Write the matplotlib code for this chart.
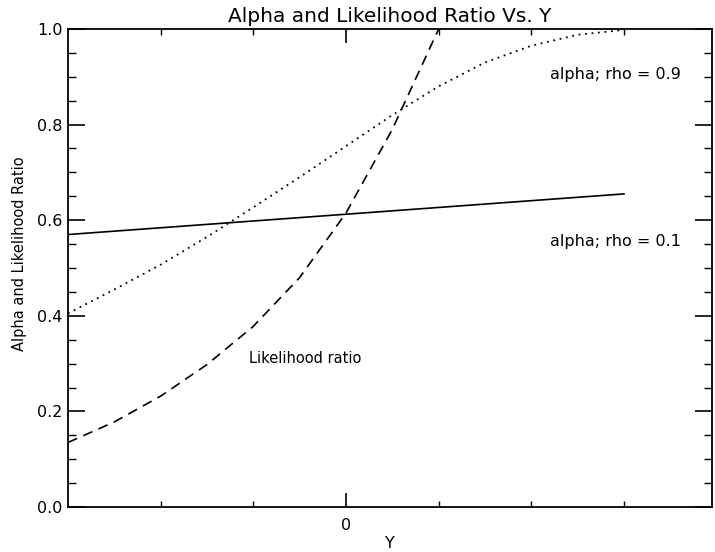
import matplotlib
matplotlib.use("Agg")
import matplotlib.pyplot as plt
import numpy as np

# --- data ---
y_grid = [-3.0, -2.5, -2.0, -1.5, -1.0, -0.5, 0.0, 0.5, 1.0, 1.5, 2.0, 2.5, 3.0]

# alpha, rho = 0.1 (solid)
alpha_01_x = [-3.0, 3.0]
alpha_01 = [0.570, 0.655]

# alpha, rho = 0.9 (dotted)
alpha_09 = [0.405, 0.455, 0.507, 0.565, 0.627, 0.690, 0.755, 0.820, 0.880, 0.930, 0.965, 0.988, 0.998]

# likelihood ratio (dashed)
lr_x = [-3.0, -2.5, -2.0, -1.5, -1.0, -0.5, 0.0, 0.5, 1.0]
lr = [0.135, 0.178, 0.232, 0.298, 0.378, 0.480, 0.615, 0.790, 1.0]

y_ticks = [0.0, 0.2, 0.4, 0.6, 0.8, 1.0]
y_tick_labels = ["0.0", "0.2", "0.4", "0.6", "0.8", "1.0"]

plt.rcParams['font.family'] = ['DejaVu Sans']

fig = plt.figure(figsize=(7.15, 5.52), dpi=100)
ax = fig.add_axes([68 / 715, 45 / 552, 644 / 715, 478 / 552])

ax.plot(alpha_01_x, alpha_01, color='black', lw=1.2, linestyle='-')
ax.plot(y_grid, alpha_09, color='black', lw=1.3, linestyle=(0, (1, 2.6)))
ax.plot(lr_x, lr, color='black', lw=1.2, linestyle=(0, (6, 4)))

ax.set_xlim(-3.0, 3.95)
ax.set_ylim(0.0, 1.0)

# x axis: only 0 labelled, small ticks elsewhere
ax.set_xticks([0])
ax.set_xticklabels(["0"])
ax.set_xticks([-2, -1, 1, 2, 3], minor=True)
ax.set_yticks(y_ticks)
ax.set_yticklabels(y_tick_labels)
ax.set_yticks(np.arange(0.05, 1.0, 0.05), minor=True)

ax.tick_params(axis='x', which='major', direction='in', length=10, width=1.2,
               top=True, bottom=True, labelsize=11.5, pad=8)
ax.tick_params(axis='x', which='minor', direction='in', length=4, width=1.0,
               top=True, bottom=True)
ax.tick_params(axis='y', which='major', direction='in', length=12, width=1.2,
               left=True, right=True, labelsize=11.5, pad=4)
ax.tick_params(axis='y', which='minor', direction='in', length=6, width=1.0,
               left=True, right=True)

for s in ax.spines.values():
    s.set_linewidth(1.3)

ax.set_title("Alpha and Likelihood Ratio Vs. Y", fontsize=14.5, pad=5)
ax.set_xlabel("Y", fontsize=11.5, labelpad=2)
ax.set_ylabel("Alpha and Likelihood Ratio", fontsize=10.5)
ax.yaxis.set_label_coords(-0.064, 0.53)

ax.text(2.2, 0.905, "alpha; rho = 0.9", fontsize=11.5, va='center', ha='left')
ax.text(2.2, 0.555, "alpha; rho = 0.1", fontsize=11.5, va='center', ha='left')
ax.text(-1.05, 0.31, "Likelihood ratio", fontsize=10.5, va='center', ha='left')

fig.savefig("out.png", dpi=100)
